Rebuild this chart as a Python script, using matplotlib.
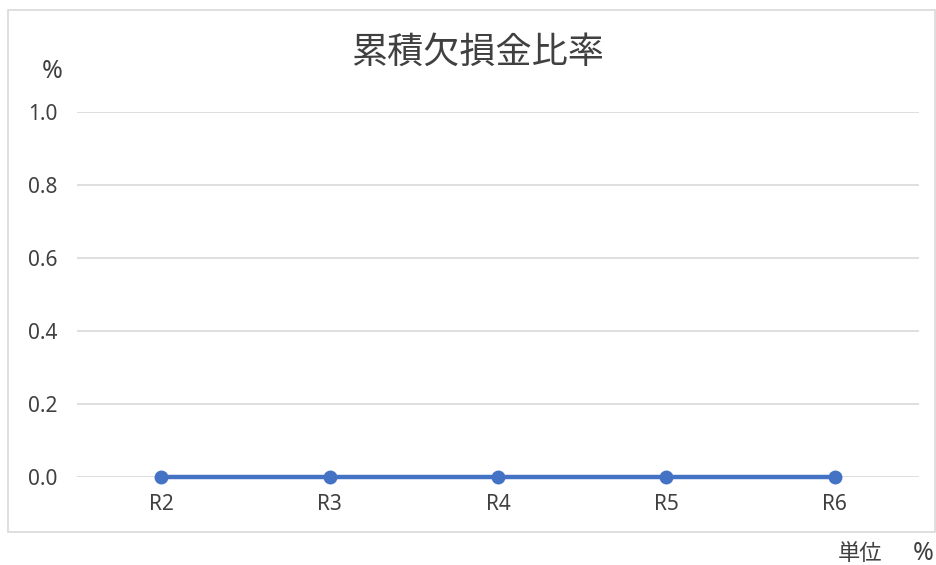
import matplotlib
matplotlib.use("Agg")
import matplotlib.pyplot as plt
from matplotlib.patches import Rectangle

plt.rcParams['font.family'] = ['Noto Sans CJK JP', 'DejaVu Sans']

categories = ["R2", "R3", "R4", "R5", "R6"]
values = [0.0, 0.0, 0.0, 0.0, 0.0]
yticks = [0.0, 0.2, 0.4, 0.6, 0.8, 1.0]
title = "累積欠損金比率"

W, H = 936, 565
fig = plt.figure(figsize=(W / 100, H / 100), dpi=100)
fig.patch.set_facecolor("white")

# outer chart border
fig.patches.append(Rectangle((8 / W, 1 - 532 / H), (935 - 8) / W, (532 - 10) / H,
                             transform=fig.transFigure, fill=False,
                             edgecolor="#d9d9d9", linewidth=1.2))

left, right, top, bottom = 77, 919, 112, 477
ax = fig.add_axes([left / W, 1 - bottom / H, (right - left) / W, (bottom - top) / H])
x = list(range(len(categories)))
ax.plot(x, values, color="#4472C4", linewidth=3.2, marker="o", markersize=9,
        clip_on=False, zorder=3)
ax.set_xlim(-0.5, len(categories) - 0.5)
ax.set_ylim(0, 1.0)
ax.set_yticks(yticks)
ax.set_yticklabels([f"{v:.1f}" for v in yticks])
ax.set_xticks(x)
ax.set_xticklabels(categories)
ax.grid(axis="y", color="#d9d9d9", linewidth=1.2)
ax.set_axisbelow(True)
for s in ax.spines.values():
    s.set_visible(False)
latin = ['Noto Sans', 'Noto Sans CJK JP']
ax.tick_params(axis="both", length=0, labelsize=15, colors="#404040")
for lab in ax.get_xticklabels() + ax.get_yticklabels():
    lab.set_family(latin)
ax.tick_params(axis="y", pad=14)
ax.tick_params(axis="x", pad=12)

fig.text(478 / W, 1 - 53 / H, title, ha="center", va="center", fontsize=26, color="#404040")
fig.text(52 / W, 1 - 72 / H, "%", ha="center", va="center", fontsize=18, color="#404040",
         family=latin)
fig.text(838 / W, 1 - 554 / H, "単位", ha="left", va="center", fontsize=16, color="#404040")
fig.text(934 / W, 1 - 554 / H, "%", ha="right", va="center", fontsize=18, color="#404040",
         family=latin)

fig.savefig("out.png", dpi=100)
